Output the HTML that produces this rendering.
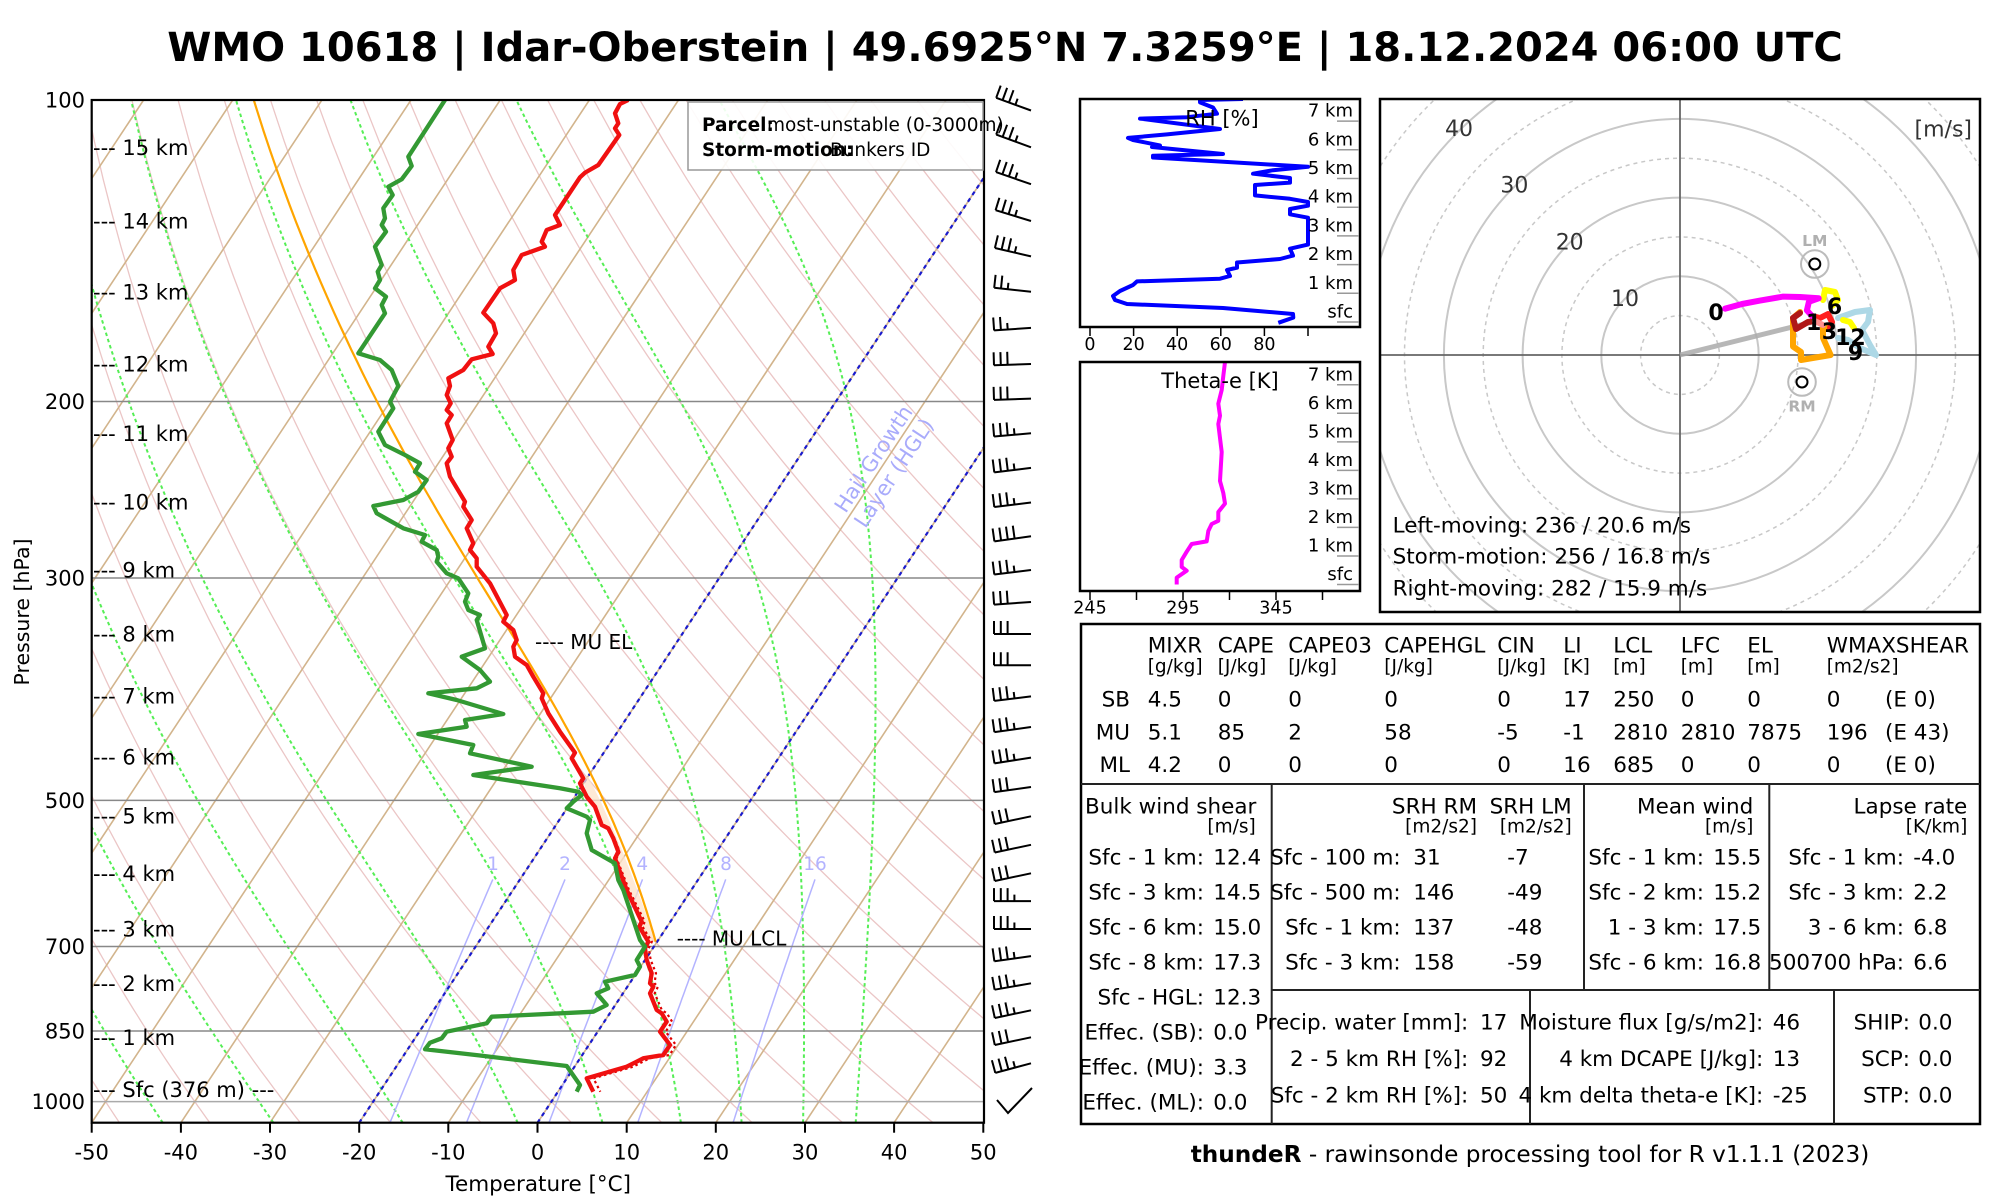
<!DOCTYPE html>
<html><head><meta charset="utf-8">
<style>
html,body{margin:0;padding:0;background:#fff;width:2000px;height:1200px;overflow:hidden}
svg{display:block}
text{font-family:"DejaVu Sans","Liberation Sans",sans-serif;fill:#000}
.f21{font-size:21px}.f20{font-size:20px}.tb{font-size:21.5px}.un{font-size:18.5px}.f18{font-size:18px}.f175{font-size:17.5px}
</style></head><body>
<svg id="svg" xmlns="http://www.w3.org/2000/svg" width="2000" height="1200" viewBox="0 0 2000 1200">
<defs>
<clipPath id="cp"><rect x="91.7" y="100" width="892.3" height="1022.7"/></clipPath>
<clipPath id="ch"><rect x="1380" y="99" width="600" height="513"/></clipPath>
<clipPath id="crh"><rect x="1080" y="99" width="280" height="228"/></clipPath>
<clipPath id="cth"><rect x="1080" y="362" width="280" height="229"/></clipPath>
</defs>
<rect width="2000" height="1200" fill="#fff"/>
<text x="1005" y="61" font-size="40" font-weight="bold" text-anchor="middle">WMO 10618 | Idar-Oberstein | 49.6925°N 7.3259°E | 18.12.2024 06:00 UTC</text>

<!-- Skew-T -->
<g clip-path="url(#cp)">
 <g id="dry" stroke="#ebc6c6" stroke-width="1.3" fill="none"></g>
 <g id="iso" stroke="#d2b48c" stroke-width="1.6">
  <line x1="-532.4" y1="1122.7" x2="143.6" y2="100"/>
  <line x1="-443.3" y1="1122.7" x2="232.7" y2="100"/>
  <line x1="-354.1" y1="1122.7" x2="321.9" y2="100"/>
  <line x1="-265.0" y1="1122.7" x2="411.0" y2="100"/>
  <line x1="-175.8" y1="1122.7" x2="500.2" y2="100"/>
  <line x1="-86.6" y1="1122.7" x2="589.4" y2="100"/>
  <line x1="2.5" y1="1122.7" x2="678.5" y2="100"/>
  <line x1="91.7" y1="1122.7" x2="767.7" y2="100"/>
  <line x1="180.9" y1="1122.7" x2="856.9" y2="100"/>
  <line x1="270.0" y1="1122.7" x2="946.0" y2="100"/>
  <line x1="359.2" y1="1122.7" x2="1035.2" y2="100"/>
  <line x1="448.3" y1="1122.7" x2="1124.3" y2="100"/>
  <line x1="537.5" y1="1122.7" x2="1213.5" y2="100"/>
  <line x1="626.7" y1="1122.7" x2="1302.7" y2="100"/>
  <line x1="715.8" y1="1122.7" x2="1391.8" y2="100"/>
  <line x1="805.0" y1="1122.7" x2="1481.0" y2="100"/>
  <line x1="894.1" y1="1122.7" x2="1570.1" y2="100"/>
  <line x1="983.3" y1="1122.7" x2="1659.3" y2="100"/>
 </g>
 <g id="moist" stroke="#55ee55" stroke-width="2" stroke-dasharray="3.5 3" fill="none"></g>
 <g id="mix" stroke="#b3b3ff" stroke-width="1.5" fill="none"></g>
 <g stroke="#888" stroke-width="1.5">
  <line x1="91.7" y1="401.5" x2="984" y2="401.5"/>
  <line x1="91.7" y1="578" x2="984" y2="578"/>
  <line x1="91.7" y1="800.4" x2="984" y2="800.4"/>
  <line x1="91.7" y1="946.5" x2="984" y2="946.5"/>
  <line x1="91.7" y1="1031" x2="984" y2="1031"/>
  <line x1="91.7" y1="1101.6" x2="984" y2="1101.6" stroke="#aaa"/>
 </g>
 <g stroke="#1a1acc" stroke-width="2.2" stroke-dasharray="4 4">
  <line x1="359.2" y1="1122.7" x2="1035.2" y2="100"/>
  <line x1="537.5" y1="1122.7" x2="1213.5" y2="100"/>
 </g>
 <text transform="translate(873.7,459) rotate(-56.5)" font-size="21" text-anchor="middle" dominant-baseline="central" style="fill:#a9abfb">Hail Growth</text>
 <text transform="translate(894,473) rotate(-56.5)" font-size="21" text-anchor="middle" dominant-baseline="central" style="fill:#a9abfb">Layer (HGL)</text>
 <polygon fill="#fde2c8" fill-opacity="0.75" points="655.7,941.7 640,897 623.3,853.3 613.3,830 600,800 588.3,776.7 583.3,778.3 586.7,796.7 595,806.7 601.7,825 608.3,828.3 613.3,838.3 618.3,851.7 615,858.3 626.7,890 641.7,921.7 639.3,926.7 648.3,941.7"/>
 <g id="parcel" stroke="#ffa500" stroke-width="2.2" fill="none"></g>
 <polyline id="tv" fill="none" stroke="#e00000" stroke-width="2.2" stroke-dasharray="2.5 3" points=""/>
 <polyline id="temp" fill="none" stroke="#f01010" stroke-width="4.3" stroke-linejoin="round" points="628.3,100 620,104 615,113.3 618.3,123.3 615,128.3 619.3,135 598.3,165 585,172.7 580,177.3 555,215 560,225 546.7,230 541.7,241.7 545,246.7 521.7,255 513.3,270 515,280 500,288.3 483.3,312.7 493.3,323.3 496,333.3 488.3,346.7 492.7,354 471.7,359.3 463.3,370 448.3,378.3 450,386 446.7,395 450.7,403.3 446.7,410 451.7,415 446.7,423.3 452.7,440 448.3,448.3 451.7,456.7 446.7,463.3 450,476.7 465,501.7 463.3,506.7 471.7,520 466.7,528.3 473.3,543.3 470,550 476.7,558.3 476.7,566.7 490,583.3 506.7,615 503.3,621.7 513.3,630 516.7,640 513.3,646.7 515,656.7 526.7,665 533.3,676.7 543.3,693.3 541.7,698.3 548.3,713.3 560,731.7 575,752.7 571.7,758.3 583.3,778.3 580,783.3 586.7,796.7 595,806.7 601.7,825 608.3,828.3 613.3,838.3 618.3,851.7 615,858.3 626.7,890 641.7,921.7 639.3,926.7 648.3,941.7 645,948.3 646.7,960 651.7,973.3 650,983.3 653.3,986.7 650,993.3 656.7,1010 661.7,1013.3 666.7,1021.7 660,1031.7 670,1045 663.3,1055 643.3,1058.3 626.7,1066.7 586.7,1078.3 593.3,1091.7"/>
 <polyline fill="none" stroke="#339933" stroke-width="4.3" stroke-linejoin="round" points="445,100 408.3,156.7 411.7,166 401.7,179.3 388.3,186.7 392.7,195 383.3,208.3 385,218.3 381.7,225 386,231.7 375,246.7 381.7,265 377.7,271.7 380,280 375,288.3 386,296.7 381.7,305 385,313.3 358.3,353.3 380,360 391.7,370 398.3,386 390,401.7 393.3,408.3 378.3,431.7 385,445 405,455 420,463.3 415,471.7 426.7,480 418.3,491.7 403.3,500 373.3,506 376.7,513.3 403.3,528.3 425,535 421.7,541.7 436.7,550 438.3,556.7 436.7,561.7 446.7,573.3 458.3,578.3 468.3,593.3 465,601.7 468.3,610 480,615 476.7,620 485,648.3 461.7,656.7 480,670 490,681.7 476.7,688.3 428.3,693.3 456.7,700 503.3,714 465,720 466.7,726.7 418.3,734 473.3,745 470,753.3 531.7,766.7 473.3,775 560,788.3 578.3,791.7 581.7,795 573.3,801.7 566.7,808.3 586.7,816.7 590,820 586.7,833.3 591.7,850 615,863.3 618.3,880 623.3,890 640,940 645,946.7 636.7,960 640,966.7 635,975 605,981.7 608.3,988.3 596.7,993.3 606.7,1005 593.3,1011.7 491.7,1016.7 486.7,1023.3 446.7,1031.7 441.7,1038.3 430,1042.7 425,1049.3 480,1055.5 566.7,1066 580,1085 576.7,1091.7"/>
</g>
<!-- frame -->
<rect x="91.7" y="100" width="892.3" height="1022.7" fill="none" stroke="#000" stroke-width="2.2"/>
<!-- legend -->
<rect x="688" y="102" width="295" height="68" fill="#fff" fill-opacity="0.9" stroke="#999" stroke-width="1.5"/>
<text x="702" y="131" font-size="18.5" font-weight="bold">Parcel:</text>
<text x="767" y="131" font-size="18.5">most-unstable (0-3000m)</text>
<text x="702" y="156" font-size="18.5" font-weight="bold">Storm-motion:</text>
<text x="830" y="156" font-size="18.5">Bunkers ID</text>
<!-- mixing ratio labels -->
<g font-size="18.5" text-anchor="middle" style="fill:#b3b3ff">
 <text x="493" y="870" style="fill:#b3b3ff">1</text>
 <text x="565" y="870" style="fill:#b3b3ff">2</text>
 <text x="642.3" y="870" style="fill:#b3b3ff">4</text>
 <text x="726" y="870" style="fill:#b3b3ff">8</text>
 <text x="815" y="870" style="fill:#b3b3ff">16</text>
</g>
<text x="535" y="649" class="f20">---- MU EL</text>
<text x="676.7" y="945.5" class="f20">---- MU LCL</text>
<!-- km labels -->
<g class="f21">
 <text x="93" y="154.9">--- 15 km</text>
 <text x="93" y="228.6">--- 14 km</text>
 <text x="93" y="299.3">--- 13 km</text>
 <text x="93" y="371.6">--- 12 km</text>
 <text x="93" y="440.9">--- 11 km</text>
 <text x="93" y="509.6">--- 10 km</text>
 <text x="93" y="577.3">--- 9 km</text>
 <text x="93" y="641.6">--- 8 km</text>
 <text x="93" y="703.3">--- 7 km</text>
 <text x="93" y="764.6">--- 6 km</text>
 <text x="93" y="823.3">--- 5 km</text>
 <text x="93" y="880.9">--- 4 km</text>
 <text x="93" y="936.6">--- 3 km</text>
 <text x="93" y="990.9">--- 2 km</text>
 <text x="93" y="1044.9">--- 1 km</text>
 <text x="93" y="1096.9">--- Sfc (376 m) ---</text>
</g>
<!-- pressure labels -->
<g class="f21" text-anchor="end">
 <text x="85" y="107.6">100</text>
 <text x="85" y="409.1">200</text>
 <text x="85" y="585.6">300</text>
 <text x="85" y="808">500</text>
 <text x="85" y="954.1">700</text>
 <text x="85" y="1038.6">850</text>
 <text x="85" y="1109.2">1000</text>
</g>
<text transform="translate(22,612) rotate(-90)" font-size="20.5" text-anchor="middle" dominant-baseline="central">Pressure [hPa]</text>
<!-- x ticks -->
<g stroke="#000" stroke-width="2">
 <line x1="91.7" y1="1122.7" x2="91.7" y2="1132.7"/><line x1="180.9" y1="1122.7" x2="180.9" y2="1132.7"/>
 <line x1="270" y1="1122.7" x2="270" y2="1132.7"/><line x1="359.2" y1="1122.7" x2="359.2" y2="1132.7"/>
 <line x1="448.3" y1="1122.7" x2="448.3" y2="1132.7"/><line x1="537.5" y1="1122.7" x2="537.5" y2="1132.7"/>
 <line x1="626.7" y1="1122.7" x2="626.7" y2="1132.7"/><line x1="715.8" y1="1122.7" x2="715.8" y2="1132.7"/>
 <line x1="805" y1="1122.7" x2="805" y2="1132.7"/><line x1="894.1" y1="1122.7" x2="894.1" y2="1132.7"/>
 <line x1="983.3" y1="1122.7" x2="983.3" y2="1132.7"/>
</g>
<g class="f21" text-anchor="middle">
 <text x="91.7" y="1159.3">-50</text><text x="180.9" y="1159.3">-40</text><text x="270" y="1159.3">-30</text>
 <text x="359.2" y="1159.3">-20</text><text x="448.3" y="1159.3">-10</text><text x="537.5" y="1159.3">0</text>
 <text x="626.7" y="1159.3">10</text><text x="715.8" y="1159.3">20</text><text x="805" y="1159.3">30</text>
 <text x="894.1" y="1159.3">40</text><text x="983.3" y="1159.3">50</text>
</g>
<text x="538.3" y="1191" font-size="21.5" text-anchor="middle">Temperature [°C]</text>
<!-- barbs -->
<g id="barbs" stroke="#000" stroke-width="2" fill="none" stroke-linecap="butt">
 <path d="M997,1100 L1008,1113 L1032,1088"/>
</g>

<!-- RH panel -->
<g clip-path="url(#crh)">
 <polyline fill="none" stroke="#0000ff" stroke-width="4" stroke-linejoin="round" points="1278.3,322.8 1293.3,317.6 1293,314 1223,308 1127,304 1115,300 1113,296 1120,291 1133,285 1137,281.4 1220,278.7 1230,276 1227,270 1237,267.7 1237,262.5 1280,259 1293,255.6 1290,248.7 1308,244.6 1308,217.7 1290,214.3 1290,209 1308,205.7 1308,202 1290,198.8 1255,195.4 1255,185 1290,182.6 1290,178 1253,173.7 1273,170.2 1308,166.8 1153,157.5 1153,155.8 1223,154 1152,147 1160,145.4 1133,140 1128,137.9 1167,134.4 1220,129 1140,118.6 1187,117.2 1217,113.7 1213,107.5 1200,102.4 1200,100 1243,99"/>
</g>
<rect x="1080" y="99" width="280" height="228" fill="none" stroke="#000" stroke-width="2.5"/>
<text x="1222" y="125.5" class="f21" text-anchor="middle">RH [%]</text>
<g stroke="#999" stroke-width="1.5">
 <line x1="1337" y1="322" x2="1359" y2="322"/><line x1="1337" y1="293.3" x2="1359" y2="293.3"/>
 <line x1="1337" y1="264.6" x2="1359" y2="264.6"/><line x1="1337" y1="235.9" x2="1359" y2="235.9"/>
 <line x1="1337" y1="207.2" x2="1359" y2="207.2"/><line x1="1337" y1="178.5" x2="1359" y2="178.5"/>
 <line x1="1337" y1="149.8" x2="1359" y2="149.8"/><line x1="1337" y1="121.1" x2="1359" y2="121.1"/>
</g>
<g class="f18" text-anchor="end">
 <text x="1353" y="317.5">sfc</text><text x="1353" y="288.8">1 km</text><text x="1353" y="260.1">2 km</text>
 <text x="1353" y="231.4">3 km</text><text x="1353" y="202.7">4 km</text><text x="1353" y="174">5 km</text>
 <text x="1353" y="145.3">6 km</text><text x="1353" y="116.6">7 km</text>
</g>
<g stroke="#000" stroke-width="1.5">
 <line x1="1090" y1="327" x2="1090" y2="336"/><line x1="1133.6" y1="327" x2="1133.6" y2="336"/>
 <line x1="1177.2" y1="327" x2="1177.2" y2="336"/><line x1="1220.8" y1="327" x2="1220.8" y2="336"/>
 <line x1="1264.4" y1="327" x2="1264.4" y2="336"/><line x1="1308" y1="327" x2="1308" y2="336"/>
</g>
<g class="f175" text-anchor="middle">
 <text x="1090" y="350">0</text><text x="1133.6" y="350">20</text><text x="1177.2" y="350">40</text>
 <text x="1220.8" y="350">60</text><text x="1264.4" y="350">80</text>
</g>

<!-- Theta-e panel -->
<g clip-path="url(#cth)">
 <polyline fill="none" stroke="#ff00ff" stroke-width="4" stroke-linejoin="round" points="1176.7,584.5 1176.7,577.6 1186.7,570.7 1181.7,567 1181.7,560 1186.7,551.7 1191.7,544 1206.7,541.4 1208.3,531 1211.7,524 1218.3,520.8 1218.3,512 1225,503.6 1223.3,493 1220,481 1221.7,452 1218.3,424 1220,415.7 1218.3,403.7 1221.7,390 1223.3,376 1225,362"/>
</g>
<rect x="1080" y="362" width="280" height="229" fill="none" stroke="#000" stroke-width="2.5"/>
<text x="1220" y="388" class="f21" text-anchor="middle">Theta-e [K]</text>
<g stroke="#999" stroke-width="1.5">
 <line x1="1337" y1="584.5" x2="1359" y2="584.5"/><line x1="1337" y1="556" x2="1359" y2="556"/>
 <line x1="1337" y1="527.4" x2="1359" y2="527.4"/><line x1="1337" y1="498.9" x2="1359" y2="498.9"/>
 <line x1="1337" y1="470.4" x2="1359" y2="470.4"/><line x1="1337" y1="441.9" x2="1359" y2="441.9"/>
 <line x1="1337" y1="413.3" x2="1359" y2="413.3"/><line x1="1337" y1="384.8" x2="1359" y2="384.8"/>
</g>
<g class="f18" text-anchor="end">
 <text x="1353" y="580">sfc</text><text x="1353" y="551.5">1 km</text><text x="1353" y="522.9">2 km</text>
 <text x="1353" y="494.4">3 km</text><text x="1353" y="465.9">4 km</text><text x="1353" y="437.4">5 km</text>
 <text x="1353" y="408.8">6 km</text><text x="1353" y="380.3">7 km</text>
</g>
<g stroke="#000" stroke-width="1.5">
 <line x1="1090" y1="591" x2="1090" y2="600"/><line x1="1136.5" y1="591" x2="1136.5" y2="600"/>
 <line x1="1183" y1="591" x2="1183" y2="600"/><line x1="1229.5" y1="591" x2="1229.5" y2="600"/>
 <line x1="1276" y1="591" x2="1276" y2="600"/><line x1="1322.5" y1="591" x2="1322.5" y2="600"/>
</g>
<g class="f175" text-anchor="middle">
 <text x="1090" y="613.5">245</text><text x="1183" y="613.5">295</text><text x="1276" y="613.5">345</text>
</g>

<!-- Hodograph -->
<g clip-path="url(#ch)">
 <g fill="none" stroke="#c8c8c8" stroke-width="2">
  <circle cx="1680" cy="355" r="78.7"/><circle cx="1680" cy="355" r="157.4"/>
  <circle cx="1680" cy="355" r="236.1"/><circle cx="1680" cy="355" r="314.8"/>
 </g>
 <g fill="none" stroke="#c8c8c8" stroke-width="1.5" stroke-dasharray="4 4">
  <circle cx="1680" cy="355" r="39.4"/><circle cx="1680" cy="355" r="118.1"/>
  <circle cx="1680" cy="355" r="196.8"/><circle cx="1680" cy="355" r="275.5"/><circle cx="1680" cy="355" r="354.2"/>
 </g>
 <line x1="1680" y1="99" x2="1680" y2="612" stroke="#666" stroke-width="1.8"/>
 <line x1="1380" y1="355" x2="1980" y2="355" stroke="#666" stroke-width="1.8"/>
 <line x1="1680" y1="355" x2="1810.8" y2="322.4" stroke="#aaa" stroke-width="5" stroke-opacity="0.85"/>
 <g fill="none" stroke-width="6" stroke-linejoin="round" stroke-linecap="round">
  <polyline stroke="#add8e6" points="1838,318 1855,312 1870,310 1868,322 1862,330 1870,345 1876,355 1860,348 1848,340 1838,338"/>
  <polyline stroke="#ffff00" points="1823,300 1825,290 1835,292 1838,300 1832,306"/>
  <polyline stroke="#ffff00" points="1843,320 1850,322 1854,328"/>
  <polyline stroke="#ffa500" points="1830,328 1823,327.6 1823,338 1830.6,355 1801,360 1801,352 1793,346.5 1793,318 1800,312"/>
  <polyline stroke="#ff2020" points="1812,316 1820,318 1828,314 1832,322 1830,328"/>
  <polyline stroke="#b01818" points="1800,313 1793,318 1796,329 1808,322 1815,321"/>
  <polyline stroke="#ff9090" points="1815,321 1823,325"/>
  <polyline stroke="#ff00ff" points="1725,308.7 1742,304 1759.4,300.7 1783.2,296.6 1800,297 1818.7,298.3 1808.9,301.8 1806.9,310.4 1812,316"/>
 </g>
 <circle cx="1814.8" cy="264" r="13.8" fill="none" stroke="#bbb" stroke-width="2"/>
 <circle cx="1814.8" cy="264" r="5.5" fill="none" stroke="#000" stroke-width="2"/>
 <circle cx="1802" cy="382" r="13.8" fill="none" stroke="#bbb" stroke-width="2"/>
 <circle cx="1802" cy="382" r="5.5" fill="none" stroke="#000" stroke-width="2"/>
 <text x="1814.8" y="246" font-size="15.5" font-weight="bold" text-anchor="middle" style="fill:#b0b0b0">LM</text>
 <text x="1802" y="411.5" font-size="15.5" font-weight="bold" text-anchor="middle" style="fill:#b0b0b0">RM</text>
 <g font-size="22" font-weight="bold" text-anchor="middle">
  <text x="1716" y="320">0</text><text x="1813.6" y="330">1</text><text x="1829.4" y="339">3</text>
  <text x="1834.5" y="314">6</text><text x="1850.4" y="345">12</text><text x="1855.5" y="360">9</text>
 </g>
 <g font-size="22" text-anchor="middle" style="fill:#333">
  <text x="1625" y="306" style="fill:#333">10</text><text x="1569.7" y="249.5" style="fill:#333">20</text>
  <text x="1514.4" y="192.7" style="fill:#333">30</text><text x="1459" y="136" style="fill:#333">40</text>
 </g>
 <text x="1972" y="136.6" font-size="22" text-anchor="end" style="fill:#333">[m/s]</text>
 <g class="tb">
  <text x="1392.6" y="532.3">Left-moving: 236 / 20.6 m/s</text>
  <text x="1392.6" y="563.3">Storm-motion: 256 / 16.8 m/s</text>
  <text x="1392.6" y="595.3">Right-moving: 282 / 15.9 m/s</text>
 </g>
</g>
<rect x="1380" y="99" width="600" height="513" fill="none" stroke="#000" stroke-width="2.5"/>

<!-- Table -->
<rect x="1081" y="624" width="899" height="500" fill="none" stroke="#000" stroke-width="2.5"/>
<g stroke="#222" stroke-width="2">
 <line x1="1081" y1="784" x2="1980" y2="784"/>
 <line x1="1271.7" y1="784" x2="1271.7" y2="1124"/>
 <line x1="1584" y1="784" x2="1584" y2="990"/>
 <line x1="1769.3" y1="784" x2="1769.3" y2="990"/>
 <line x1="1271.7" y1="990" x2="1980" y2="990"/>
 <line x1="1530" y1="990" x2="1530" y2="1124"/>
 <line x1="1834" y1="990" x2="1834" y2="1124"/>
</g>
<g class="tb">
 <text x="1147.7" y="652.7">MIXR</text><text x="1217.7" y="652.7">CAPE</text><text x="1288.3" y="652.7">CAPE03</text>
 <text x="1384.3" y="652.7">CAPEHGL</text><text x="1497.3" y="652.7">CIN</text><text x="1563.3" y="652.7">LI</text>
 <text x="1613.3" y="652.7">LCL</text><text x="1680.7" y="652.7">LFC</text><text x="1747.3" y="652.7">EL</text>
 <text x="1826.7" y="652.7">WMAXSHEAR</text>
</g>
<g class="un">
 <text x="1147.7" y="672.5">[g/kg]</text><text x="1217.7" y="672.5">[J/kg]</text><text x="1288.3" y="672.5">[J/kg]</text>
 <text x="1384.3" y="672.5">[J/kg]</text><text x="1497.3" y="672.5">[J/kg]</text><text x="1563.3" y="672.5">[K]</text>
 <text x="1613.3" y="672.5">[m]</text><text x="1680.7" y="672.5">[m]</text><text x="1747.3" y="672.5">[m]</text>
 <text x="1826.7" y="672.5">[m2/s2]</text>
</g>
<g class="tb">
 <text x="1130" y="706.7" text-anchor="end">SB</text><text x="1130" y="739.4" text-anchor="end">MU</text><text x="1130" y="772" text-anchor="end">ML</text>
 <text x="1147.7" y="706.7">4.5</text><text x="1217.7" y="706.7">0</text><text x="1288.3" y="706.7">0</text><text x="1384.3" y="706.7">0</text><text x="1497.3" y="706.7">0</text><text x="1563.3" y="706.7">17</text><text x="1613.3" y="706.7">250</text><text x="1680.7" y="706.7">0</text><text x="1747.3" y="706.7">0</text><text x="1826.7" y="706.7">0</text><text x="1885" y="706.7">(E 0)</text>
 <text x="1147.7" y="739.4">5.1</text><text x="1217.7" y="739.4">85</text><text x="1288.3" y="739.4">2</text><text x="1384.3" y="739.4">58</text><text x="1497.3" y="739.4">-5</text><text x="1563.3" y="739.4">-1</text><text x="1613.3" y="739.4">2810</text><text x="1680.7" y="739.4">2810</text><text x="1747.3" y="739.4">7875</text><text x="1826.7" y="739.4">196</text><text x="1885" y="739.4">(E 43)</text>
 <text x="1147.7" y="772">4.2</text><text x="1217.7" y="772">0</text><text x="1288.3" y="772">0</text><text x="1384.3" y="772">0</text><text x="1497.3" y="772">0</text><text x="1563.3" y="772">16</text><text x="1613.3" y="772">685</text><text x="1680.7" y="772">0</text><text x="1747.3" y="772">0</text><text x="1826.7" y="772">0</text><text x="1885" y="772">(E 0)</text>
</g>
<!-- bulk wind shear -->
<g class="tb">
 <text x="1085" y="813.4">Bulk wind shear</text>
 <g text-anchor="end">
  <text x="1204" y="864.4">Sfc - 1 km:</text><text x="1204" y="899.4">Sfc - 3 km:</text><text x="1204" y="934.4">Sfc - 6 km:</text>
  <text x="1204" y="969.4">Sfc - 8 km:</text><text x="1204" y="1004.4">Sfc - HGL:</text><text x="1204" y="1039.4">Effec. (SB):</text>
  <text x="1204" y="1074.4">Effec. (MU):</text><text x="1204" y="1109.4">Effec. (ML):</text>
 </g>
 <text x="1213.3" y="864.4">12.4</text><text x="1213.3" y="899.4">14.5</text><text x="1213.3" y="934.4">15.0</text>
 <text x="1213.3" y="969.4">17.3</text><text x="1213.3" y="1004.4">12.3</text><text x="1213.3" y="1039.4">0.0</text>
 <text x="1213.3" y="1074.4">3.3</text><text x="1213.3" y="1109.4">0.0</text>
</g>
<text x="1255.7" y="832.5" class="un" text-anchor="end">[m/s]</text>
<!-- SRH -->
<g class="tb">
 <text x="1477" y="813.4" text-anchor="end">SRH RM</text><text x="1571.7" y="813.4" text-anchor="end">SRH LM</text>
 <g text-anchor="end">
  <text x="1400.7" y="864.4">Sfc - 100 m:</text><text x="1400.7" y="899.4">Sfc - 500 m:</text>
  <text x="1400.7" y="934.4">Sfc - 1 km:</text><text x="1400.7" y="969.4">Sfc - 3 km:</text>
 </g>
 <text x="1413.3" y="864.4">31</text><text x="1413.3" y="899.4">146</text><text x="1413.3" y="934.4">137</text><text x="1413.3" y="969.4">158</text>
 <text x="1507.3" y="864.4">-7</text><text x="1507.3" y="899.4">-49</text><text x="1507.3" y="934.4">-48</text><text x="1507.3" y="969.4">-59</text>
</g>
<text x="1477" y="832.5" class="un" text-anchor="end">[m2/s2]</text>
<text x="1571.7" y="832.5" class="un" text-anchor="end">[m2/s2]</text>
<!-- Mean wind -->
<g class="tb">
 <text x="1753.3" y="813.4" text-anchor="end">Mean wind</text>
 <g text-anchor="end">
  <text x="1704" y="864.4">Sfc - 1 km:</text><text x="1704" y="899.4">Sfc - 2 km:</text>
  <text x="1704" y="934.4">1 - 3 km:</text><text x="1704" y="969.4">Sfc - 6 km:</text>
 </g>
 <text x="1713.3" y="864.4">15.5</text><text x="1713.3" y="899.4">15.2</text><text x="1713.3" y="934.4">17.5</text><text x="1713.3" y="969.4">16.8</text>
</g>
<text x="1753.3" y="832.5" class="un" text-anchor="end">[m/s]</text>
<!-- Lapse rate -->
<g class="tb">
 <text x="1967.3" y="813.4" text-anchor="end">Lapse rate</text>
 <g text-anchor="end">
  <text x="1904" y="864.4">Sfc - 1 km:</text><text x="1904" y="899.4">Sfc - 3 km:</text>
  <text x="1904" y="934.4">3 - 6 km:</text><text x="1904" y="969.4">500700 hPa:</text>
 </g>
 <text x="1913.3" y="864.4">-4.0</text><text x="1913.3" y="899.4">2.2</text><text x="1913.3" y="934.4">6.8</text><text x="1913.3" y="969.4">6.6</text>
</g>
<text x="1967.3" y="832.5" class="un" text-anchor="end">[K/km]</text>
<!-- bottom section -->
<g class="tb">
 <g text-anchor="end">
  <text x="1468.3" y="1029.4">Precip. water [mm]:</text><text x="1468.3" y="1066">2 - 5 km RH [%]:</text><text x="1468.3" y="1102.7">Sfc - 2 km RH [%]:</text>
  <text x="1763.3" y="1029.4">Moisture flux [g/s/m2]:</text><text x="1763.3" y="1066">4 km DCAPE [J/kg]:</text><text x="1763.3" y="1102.7">4 km delta theta-e [K]:</text>
  <text x="1910" y="1029.4">SHIP:</text><text x="1910" y="1066">SCP:</text><text x="1910" y="1102.7">STP:</text>
 </g>
 <text x="1480" y="1029.4">17</text><text x="1480" y="1066">92</text><text x="1480" y="1102.7">50</text>
 <text x="1772.7" y="1029.4">46</text><text x="1772.7" y="1066">13</text><text x="1772.7" y="1102.7">-25</text>
 <text x="1918.3" y="1029.4">0.0</text><text x="1918.3" y="1066">0.0</text><text x="1918.3" y="1102.7">0.0</text>
</g>
<text x="1530" y="1162" font-size="23.2" text-anchor="middle"><tspan font-weight="bold">thundeR</tspan> - rawinsonde processing tool for R v1.1.1 (2023)</text>
</svg>
<script>
(function(){
const NS='http://www.w3.org/2000/svg';
function el(parent,tag,attrs){const e=document.createElementNS(NS,tag);for(const k in attrs)e.setAttribute(k,attrs[k]);parent.appendChild(e);return e;}
const X0=91.7,YB=1122.7,SK=0.661,DX=8.916;
const Y=p=>100+435*Math.log(p/100);
const X=(Tc,y)=>X0+(Tc+50)*DX+(YB-y)*SK;
function pathFrom(pts){return pts.map((q,i)=>(i?'L':'M')+q[0].toFixed(1)+' '+q[1].toFixed(1)).join(' ');}
const gd=document.getElementById('dry');
for(let th=-60;th<=230;th+=10){const pts=[];for(let p=1050;p>=100;p-=10){const T=(th+273.15)*Math.pow(p/1000,0.2857)-273.15;const y=Y(p);pts.push([X(T,y),y]);}el(gd,'path',{d:pathFrom(pts)});}
function dTdp(T,p){const Rd=287.04,Cp=1005.7,Lv=2.501e6,eps=0.622;const Tc=T-273.15;const es=6.112*Math.exp(17.67*Tc/(Tc+243.5));const rs=eps*es/(p-es);return (Rd*T+Lv*rs)/(p*(Cp+Lv*Lv*rs*eps/(Rd*T*T)));}
function moistPts(Tc0,p0){let T=Tc0+273.15,p=p0;const out=[];const push=()=>{const y=Y(p);out.push([X(T-273.15,y),y]);};push();while(p>100.01){const h=Math.max(-5,100-p);const k1=dTdp(T,p);const k2=dTdp(T+k1*h/2,p+h/2);T+=k2*h;p+=h;push();}return out;}
const gm=document.getElementById('moist');
[-42,-29.6,-15.1,-2.2,7.3,16.1,22.9,29.8,35.7].forEach(t=>el(gm,'path',{d:pathFrom(moistPts(t,1050))}));
const gx=document.getElementById('mix');
[1,2,4,8,16].forEach(w=>{const pts=[];for(let p=1050;p>=600;p-=10){const e=w/1000*p/(0.622+w/1000);const l=Math.log(e/6.112);const Td=243.5*l/(17.67-l);const y=Y(p);pts.push([X(Td,y),y]);}el(gx,'path',{d:pathFrom(pts)});});
el(document.getElementById('parcel'),'path',{d:pathFrom(moistPts(-0.16,692.4))});
const tp=document.getElementById('temp').getAttribute('points').trim().split(/\s+/).map(s=>s.split(',').map(Number));
const tv=tp.filter(q=>q[1]>=790).map(q=>{const o=Math.max(0,Math.min(7,(q[1]-790)/300*7));return (q[0]+o).toFixed(1)+','+q[1];});
document.getElementById('tv').setAttribute('points',tv.join(' '));
const gb=document.getElementById('barbs');
const dirs=[290,290,289,287,283,276,266,268,268,265,263,263,262,263,266,270,270,263,262,261,262,258,258,258,270,270,262,260,258,258,255];
const spd=[35,35,35,35,35,25,25,30,30,35,35,35,40,35,30,30,30,35,35,35,30,30,30,30,35,35,35,35,35,30,35];
function yKm(h){const ks=[1089.3,1037.3,983.3,929,873.3,816.3,757.6,696.4,634,570,502.5,433.3,364,291.7,221,147.3];if(h>=15)return 147.3-(h-15)*73.7;const i=Math.floor(h),f=h-i;return ks[i]+(ks[i+1]-ks[i])*f;}
for(let i=0;i<31;i++){const h=15.5-0.5*i;const y=yKm(h);const d=dirs[i]*Math.PI/180;const sx=Math.sin(d),sy=-Math.cos(d);const ax=1031,ay=y;const ex=ax+37*sx,ey=ay+37*sy;const tx=-sy,ty=sx;let dd='M'+ax.toFixed(1)+' '+ay.toFixed(1)+' L'+ex.toFixed(1)+' '+ey.toFixed(1);const s=spd[i];const full=Math.floor(s/10),half=(s%10)>=5;let k=0;for(let j=0;j<full;j++,k++){const px=ex-k*6.8*sx,py=ey-k*6.8*sy;dd+=' M'+px.toFixed(1)+' '+py.toFixed(1)+' L'+(px+13*tx).toFixed(1)+' '+(py+13*ty).toFixed(1);}if(half){const px=ex-k*6.8*sx,py=ey-k*6.8*sy;dd+=' M'+px.toFixed(1)+' '+py.toFixed(1)+' L'+(px+6.5*tx).toFixed(1)+' '+(py+6.5*ty).toFixed(1);}el(gb,'path',{d:dd});}
})();
</script>
</body></html>
